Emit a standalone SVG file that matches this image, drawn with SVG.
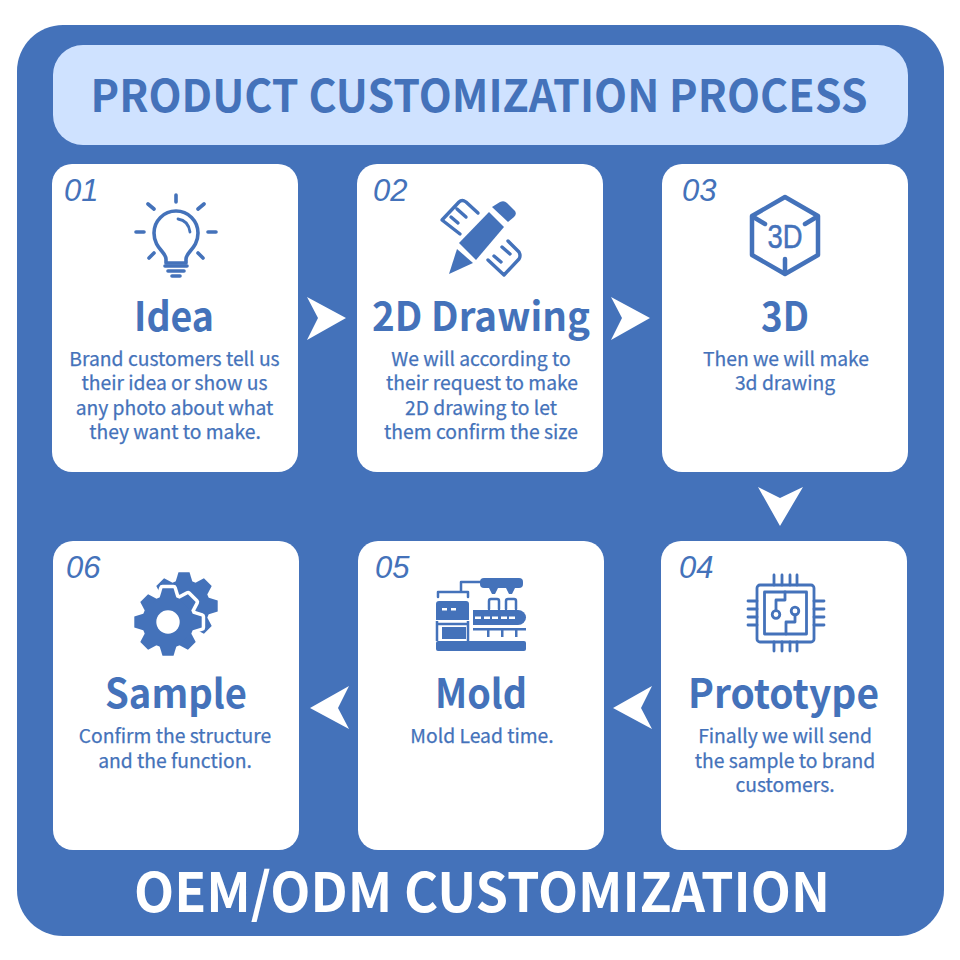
<svg xmlns="http://www.w3.org/2000/svg" width="960" height="960" viewBox="0 0 960 960">
<style>
text{font-family:"Noto Sans CJK SC","Noto Sans",sans-serif;text-anchor:middle;fill:#4472ba}
.card{fill:#fff}
.num{font-family:"Liberation Sans",Arial,sans-serif;font-style:italic;font-size:31px;text-anchor:start}
.h{font-size:40px;font-weight:700}
.d{font-size:19.3px;font-weight:400;stroke:#4472ba;stroke-width:.25px}
.ln{fill:none;stroke:#4472ba;stroke-linecap:round;stroke-linejoin:round}
.f{fill:#4472ba}
.arrow{fill:#fff}
</style>
<defs>
<g id="gear">
<circle r="26"/>
<polygon id="tooth" points="-8.5,-24 -5.5,-33.7 5.5,-33.7 8.5,-24"/>
<use href="#tooth" transform="rotate(45)"/><use href="#tooth" transform="rotate(90)"/><use href="#tooth" transform="rotate(135)"/><use href="#tooth" transform="rotate(180)"/><use href="#tooth" transform="rotate(225)"/><use href="#tooth" transform="rotate(270)"/><use href="#tooth" transform="rotate(315)"/>
</g>
</defs>
<rect width="960" height="960" fill="#fff"/>
<rect id="panel" x="17" y="25" width="927" height="911" rx="46" fill="#4472ba"/>
<g id="title">
<rect x="53" y="45" width="855" height="100" rx="30" fill="#cfe2ff"/>
<text x="479" y="112" font-size="45" font-weight="700" textLength="777" lengthAdjust="spacingAndGlyphs">PRODUCT CUSTOMIZATION PROCESS</text>
</g>
<g id="connectors" class="arrow">
<polygon points="307,297 346,318 307,340 318,318"/>
<polygon points="611,297 650,318 611,340 622,318"/>
<polygon points="758,487 780,498 803,487 780,526"/>
<polygon points="652,686 613,708 652,729 641,708"/>
<polygon points="349,686 310,708 349,729 338,708"/>
</g>
<g id="node-01">
<rect class="card" x="52" y="164" width="246" height="308" rx="20"/>
<text class="num" x="64" y="201">01</text>
<g class="ln" stroke-width="3.6">
<path d="M176,195V202M148,204L154,209M204,204L198,209M136,232H144M208,232H216M149,258L154,253M203,258L198,253"/>
<path d="M166,263V259C166,252 154,248 154,233A22,22 0 0 1 198,233C198,248 186,252 186,259V263Z"/>
<path d="M178,219C185,220 189,225 190,232" stroke-width="2.8"/>
<path d="M165,266H187M168,271H184M172,276H180"/>
</g>
<text class="h" x="174" y="331" textLength="80" lengthAdjust="spacingAndGlyphs">Idea</text>
<text class="d" x="174.500" y="366">Brand customers tell us</text>
<text class="d" x="174.500" y="390">their idea or show us</text>
<text class="d" x="174.500" y="415">any photo about what</text>
<text class="d" x="175" y="439">they want to make.</text>
</g>
<g id="node-02">
<rect class="card" x="357" y="164" width="246" height="308" rx="20"/>
<text class="num" x="373" y="201">02</text>
<path class="ln" stroke-width="3.4" d="M478,213L466,202Q462,199 459,202L442,220L460,234M451,217L458,223M457,209L466,217"/>
<path class="ln" stroke-width="3.4" d="M508,241L519,252Q521,256 519,259L504,275L488,260M501,262L494,256M510,254L502,247"/>
<g class="f">
<path d="M500,202Q504,200 507,203L515,211Q517,214 514,217L508,222L492,207Z"/>
<polygon points="489,212 504,227 476,260 459,243"/>
<polygon points="457,249 473,263 449,274"/>
</g>
<text class="h" x="481" y="331" textLength="218" lengthAdjust="spacingAndGlyphs">2D Drawing</text>
<text class="d" x="481" y="366">We will according to</text>
<text class="d" x="482" y="390">their request to make</text>
<text class="d" x="481" y="415">2D drawing to let</text>
<text class="d" x="481" y="439">them confirm the size</text>
</g>
<g id="node-03">
<rect class="card" x="662" y="164" width="246" height="308" rx="20"/>
<text class="num" x="682" y="201">03</text>
<path class="ln" stroke-width="4.5" d="M785,197L818,216V255L785,274L752,255V216Z"/>
<path class="ln" stroke-width="4.5" stroke-linecap="butt" d="M755,218L765,224M815,218L805,224M785,273V259"/>
<text x="785" y="248" font-size="33" stroke="#4472ba" stroke-width=".5" style="font-family:'Liberation Sans',Arial,sans-serif" textLength="35" lengthAdjust="spacingAndGlyphs">3D</text>
<text class="h" x="785" y="331" textLength="48" lengthAdjust="spacingAndGlyphs">3D</text>
<text class="d" x="786" y="366">Then we will make</text>
<text class="d" x="785" y="390">3d drawing</text>
</g>
<g id="node-04">
<rect class="card" x="661" y="541" width="246" height="309" rx="20"/>
<text class="num" x="679" y="578">04</text>
<g class="ln" stroke-width="2.8">
<rect x="757" y="585" width="57" height="57" rx="3"/>
<rect x="764.500" y="592" width="42" height="42"/>
<path d="M774,575V585M782,575V585M790,575V585M797,575V585M774,642V651M782,642V651M790,642V651M797,642V651M748,601H757M748,609H757M748,617H757M748,625H757M814,601H824M814,609H824M814,617H824M814,625H824"/>
<path d="M785,592V600H776V610"/>
<circle cx="776" cy="614.500" r="3.800"/>
<circle cx="795" cy="611" r="3.800"/>
<path d="M795,615V622H786V634"/>
</g>
<text class="h" x="783.500" y="708" textLength="191" lengthAdjust="spacingAndGlyphs">Prototype</text>
<text class="d" x="785" y="743">Finally we will send</text>
<text class="d" x="785" y="768">the sample to brand</text>
<text class="d" x="785" y="792">customers.</text>
</g>
<g id="node-05">
<rect class="card" x="358" y="541" width="246" height="309" rx="20"/>
<text class="num" x="375" y="578">05</text>
<g class="f">
<rect x="480" y="578" width="43" height="10" rx="4"/>
<path d="M489,588H498L495,594H492ZM506,588H515L512,594H509Z"/>
<path d="M436,604Q436,601 439,601H466Q469,601 469,604V620H436Z"/>
<rect x="442" y="627" width="24" height="12"/>
<rect x="436" y="641" width="90" height="10" rx="2"/>
<path d="M473,610H518A8,7.500 0 0 1 518,625H473Z"/>
<rect x="473" y="628" width="53" height="2.500"/>
<rect x="487" y="630" width="2.500" height="7"/>
<rect x="501" y="630" width="2.500" height="7"/>
<rect x="515" y="630" width="2.500" height="7"/>
</g>
<path fill="none" stroke="#4472ba" stroke-width="2.500" d="M437,621V641M468,621V641M437,624H468"/>
<path class="ln" stroke-width="2.500" d="M438,597V592H468V597M461,592V582H480M489,609V601Q489,599 491,599H497Q499,599 499,601V609M506,609V601Q506,599 508,599H514Q516,599 516,601V609"/>
<g fill="#fff">
<rect x="442" y="608" width="5" height="2.500"/><rect x="451" y="608" width="5" height="2.500"/>
<rect x="475" y="616.500" width="6" height="2.500"/><rect x="484" y="616.500" width="6" height="2.500"/><rect x="492" y="616.500" width="6" height="2.500"/><rect x="501" y="616.500" width="6" height="2.500"/><rect x="509" y="616.500" width="6" height="2.500"/>
</g>
<text class="h" x="481" y="708" textLength="92" lengthAdjust="spacingAndGlyphs">Mold</text>
<text class="d" x="482" y="743">Mold Lead time.</text>
</g>
<g id="node-06">
<rect class="card" x="53" y="541" width="246" height="309" rx="20"/>
<text class="num" x="66" y="578">06</text>
<use href="#gear" class="f" transform="translate(184,606)"/>
<use href="#gear" fill="#fff" stroke="#fff" stroke-width="7" stroke-linejoin="round" transform="translate(168,622)"/>
<use href="#gear" class="f" transform="translate(168,622)"/>
<circle cx="168" cy="622" r="11.700" fill="#fff"/>
<text class="h" x="176" y="708" textLength="142" lengthAdjust="spacingAndGlyphs">Sample</text>
<text class="d" x="175" y="743">Confirm the structure</text>
<text class="d" x="175" y="768">and the function.</text>
</g>
<text id="footer" x="482" y="912" font-size="54" font-weight="700" style="fill:#fff" textLength="696" lengthAdjust="spacingAndGlyphs">OEM/ODM CUSTOMIZATION</text>
</svg>
